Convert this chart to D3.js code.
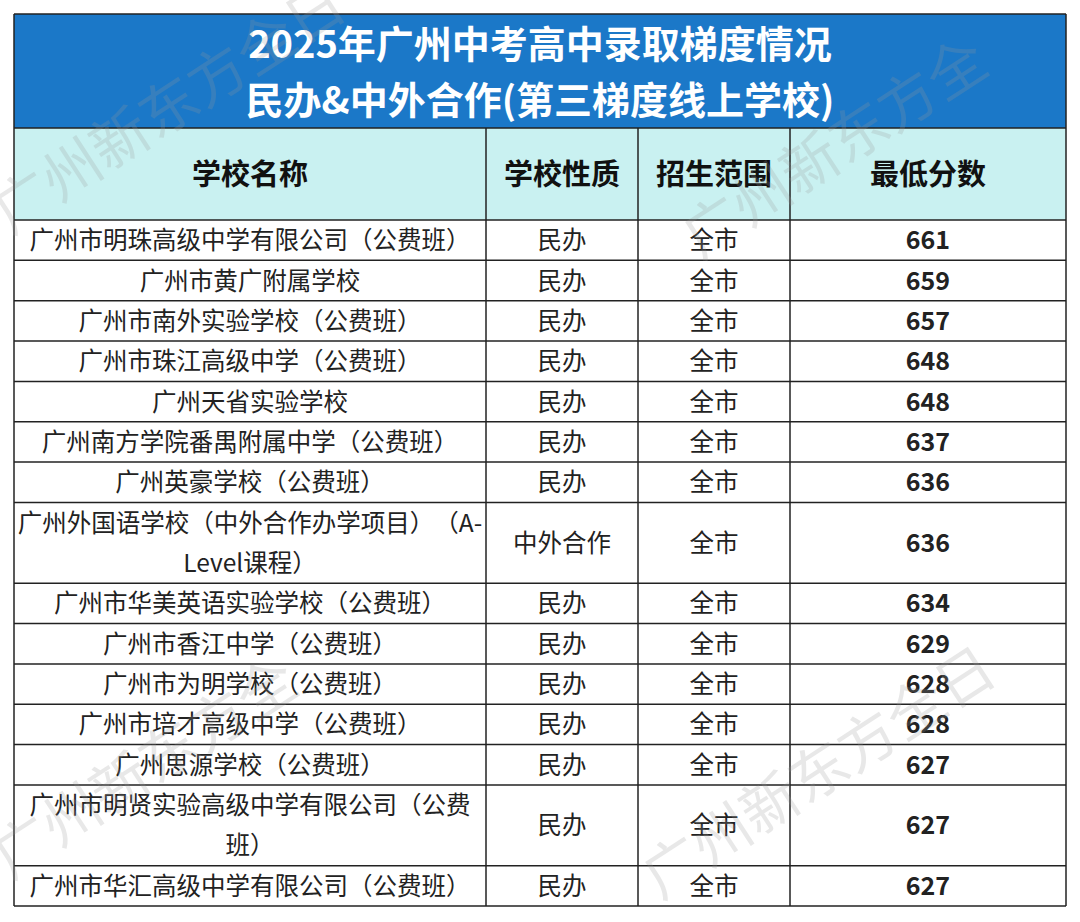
<!DOCTYPE html>
<html><head><meta charset="utf-8">
<script src="https://cdn.jsdelivr.net/npm/d3@7"></script>
<style>body{margin:0;background:#fff}text{font-family:"Noto Sans CJK SC","Noto Sans",sans-serif}</style>
</head><body><div id="chart"></div>
<script>
var titles = ["2025年广州中考高中录取梯度情况", "民办&中外合作(第三梯度线上学校)"];
var headers = ["学校名称", "学校性质", "招生范围", "最低分数"];
var schools = [
  ["广州市明珠高级中学有限公司（公费班）"],
  ["广州市黄广附属学校"],
  ["广州市南外实验学校（公费班）"],
  ["广州市珠江高级中学（公费班）"],
  ["广州天省实验学校"],
  ["广州南方学院番禺附属中学（公费班）"],
  ["广州英豪学校（公费班）"],
  ["广州外国语学校（中外合作办学项目）　（A-", "Level课程）"],
  ["广州市华美英语实验学校（公费班）"],
  ["广州市香江中学（公费班）"],
  ["广州市为明学校（公费班）"],
  ["广州市培才高级中学（公费班）"],
  ["广州思源学校（公费班）"],
  ["广州市明贤实验高级中学有限公司（公费", "班）"],
  ["广州市华汇高级中学有限公司（公费班）"]
];
var types = ["民办","民办","民办","民办","民办","民办","民办","中外合作","民办","民办","民办","民办","民办","民办","民办"];
var scope = ["全市","全市","全市","全市","全市","全市","全市","全市","全市","全市","全市","全市","全市","全市","全市"];
var scores = [661,659,657,648,648,637,636,636,634,629,628,628,627,627,627];

var W = 1080, H = 922;
var svg = d3.select("#chart").append("svg").attr("width", W).attr("height", H);

var colEdges = [14, 486, 638, 790, 1066];
var units = [0];
schools.forEach(function(s) { units.push(units[units.length - 1] + s.length); });
var y = d3.scaleLinear().domain([0, units[units.length - 1]]).range([220, 906]);

// title band
svg.append("rect").attr("x", 14).attr("y", 14).attr("width", 1052).attr("height", 114).attr("fill", "#1b78c8");
svg.selectAll(".title").data(titles).enter().append("text")
  .attr("x", 540).attr("y", function(d, i) { return 58 + i * 56; })
  .attr("text-anchor", "middle").attr("fill", "#fff")
  .attr("font-size", 38).attr("font-weight", "bold").text(function(d) { return d; });

// header
svg.append("rect").attr("x", 14).attr("y", 128).attr("width", 1052).attr("height", 92).attr("fill", "#c9f1f1");
svg.selectAll(".hdr").data(headers).enter().append("text")
  .attr("x", function(d, i) { return (colEdges[i] + colEdges[i + 1]) / 2; })
  .attr("y", 185).attr("text-anchor", "middle").attr("fill", "#111")
  .attr("font-size", 29).attr("font-weight", "bold").text(function(d) { return d; });

// rows
var rows = svg.selectAll(".row").data(schools).enter().append("g");
rows.each(function(s, i) {
  var g = d3.select(this);
  var y0 = y(units[i]), y1 = y(units[i + 1]), mid = (y0 + y1) / 2;
  var t = g.append("text").attr("x", 250).attr("text-anchor", "middle").attr("fill", "#222").attr("font-size", 24.5);
  s.forEach(function(line, k) {
    t.append("tspan").attr("x", 250).attr("y", mid + 9 + (k - (s.length - 1) / 2) * 40).text(line);
  });
  [types[i], scope[i]].forEach(function(v, c) {
    g.append("text").attr("x", (colEdges[c + 1] + colEdges[c + 2]) / 2).attr("y", mid + 9)
      .attr("text-anchor", "middle").attr("fill", "#222").attr("font-size", 24.5).text(v);
  });
  g.append("text").attr("x", 928).attr("y", mid + 9).attr("text-anchor", "middle")
    .attr("fill", "#222").attr("font-size", 25).attr("font-weight", "bold").text(scores[i]);
});

// grid lines
var hLines = [14, 128].concat(units.map(function(u) { return y(u); }));
svg.selectAll(".hl").data(hLines).enter().append("line")
  .attr("x1", 14).attr("x2", 1066).attr("y1", function(d) { return d; }).attr("y2", function(d) { return d; })
  .attr("stroke", "#222").attr("stroke-width", 1.5);
svg.selectAll(".vl").data(colEdges).enter().append("line")
  .attr("x1", function(d) { return d; }).attr("x2", function(d) { return d; })
  .attr("y1", function(d, i) { return (i == 0 || i == 4) ? 14 : 128; }).attr("y2", 906)
  .attr("stroke", "#222").attr("stroke-width", 1.5);

// watermarks
var marks = [[10, 235, "广州新东方全日"], [700, 260, "广州新东方全"], [10, 880, "广州新东方全"], [660, 900, "广州新东方全日"]];
svg.selectAll(".wm").data(marks).enter().append("text")
  .attr("transform", function(d) { return "translate(" + d[0] + "," + d[1] + ") rotate(-33)"; })
  .attr("fill", "#999").attr("opacity", 0.22).attr("font-size", 58).text(function(d) { return d[2]; });
</script></body></html>
